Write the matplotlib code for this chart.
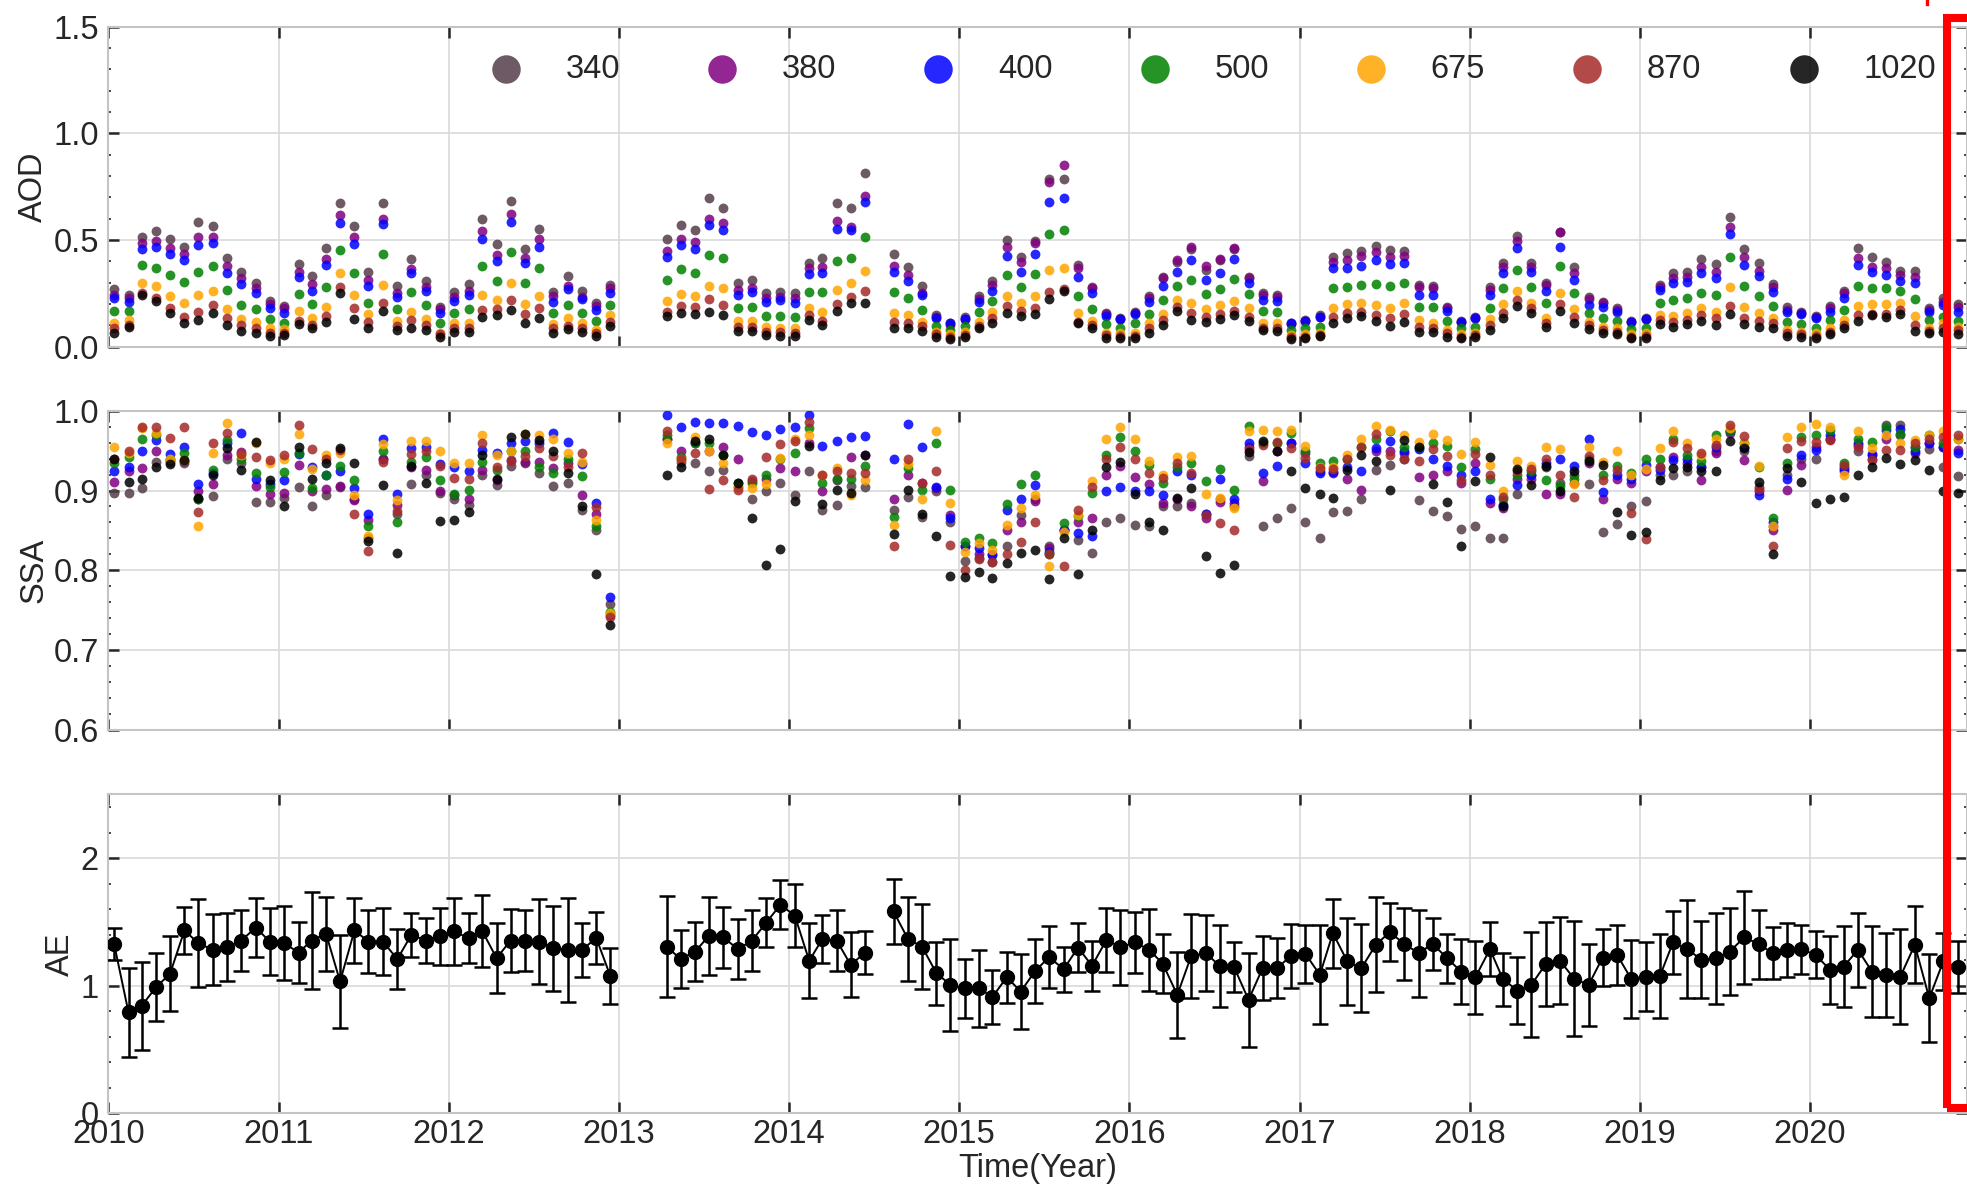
import numpy as np
import pandas as pd
import matplotlib
matplotlib.use('Agg')
import matplotlib.pyplot as plt
import matplotlib.dates as mdates
from matplotlib.ticker import MultipleLocator, FormatStrFormatter
from matplotlib.patches import Rectangle
from matplotlib.lines import Line2D

plt.rcParams['font.family'] = 'Liberation Sans'

nan = np.nan

# monthly series, Jan 2010 .. Nov 2020 (131 months)
first_month = '2010-01-01'
n_months = 131

wavelengths = ['340', '380', '400', '500', '675', '870', '1020']
colors = ['#553d49', 'purple', 'blue', 'green', 'orange', 'brown', 'black']

# AOD per wavelength (one row per year)
aod_340 = [0.272, 0.244, 0.513, 0.542, 0.503, 0.466, 0.583, 0.566, 0.414, 0.352, 0.300, 0.214,
           0.190, 0.386, 0.330, 0.461, 0.675, 0.567, 0.350, 0.675, 0.286, 0.409, 0.306, 0.188,
           0.256, 0.292, 0.600, 0.480, 0.684, 0.458, 0.550, 0.258, 0.330, 0.263, 0.203, 0.288,
           nan, nan, nan, 0.506, 0.570, 0.547, 0.698, 0.652, 0.300, 0.313, 0.250, 0.256,
           0.250, 0.390, 0.417, 0.672, 0.648, 0.814, nan, 0.434, 0.375, 0.284, 0.148, 0.109,
           0.138, 0.238, 0.309, 0.500, 0.419, 0.497, 0.784, 0.784, 0.383, 0.281, 0.159, 0.136,
           0.161, 0.239, 0.328, 0.398, 0.456, 0.359, 0.406, 0.456, 0.328, 0.253, 0.242, 0.113,
           0.125, 0.148, 0.422, 0.438, 0.450, 0.472, 0.453, 0.450, 0.289, 0.286, 0.188, 0.120,
           0.138, 0.278, 0.394, 0.519, 0.390, 0.297, 0.539, 0.372, 0.234, 0.211, 0.180, 0.122,
           0.133, 0.289, 0.344, 0.352, 0.409, 0.388, 0.606, 0.456, 0.394, 0.294, 0.184, 0.164,
           0.144, 0.190, 0.263, 0.461, 0.419, 0.395, 0.356, 0.356, 0.180, 0.227, 0.200]
aod_380 = [0.242, 0.230, 0.484, 0.497, 0.463, 0.434, 0.513, 0.514, 0.380, 0.320, 0.273, 0.200,
           0.180, 0.352, 0.292, 0.409, 0.617, 0.516, 0.313, 0.600, 0.250, 0.363, 0.278, 0.175,
           0.234, 0.263, 0.544, 0.430, 0.620, 0.414, 0.503, 0.238, 0.284, 0.234, 0.190, 0.273,
           nan, nan, nan, 0.450, 0.506, 0.489, 0.600, 0.578, 0.266, 0.277, 0.227, 0.234,
           0.227, 0.370, 0.372, 0.589, 0.563, 0.706, nan, 0.378, 0.336, 0.253, 0.140, 0.100,
           0.130, 0.223, 0.289, 0.469, 0.398, 0.484, 0.773, 0.850, 0.367, 0.273, 0.152, 0.130,
           0.156, 0.227, 0.320, 0.406, 0.466, 0.380, 0.411, 0.461, 0.320, 0.242, 0.234, 0.106,
           0.122, 0.138, 0.398, 0.406, 0.425, 0.445, 0.422, 0.425, 0.278, 0.273, 0.180, 0.117,
           0.133, 0.266, 0.375, 0.497, 0.375, 0.289, 0.536, 0.347, 0.222, 0.203, 0.172, 0.117,
           0.128, 0.278, 0.320, 0.325, 0.375, 0.348, 0.563, 0.419, 0.356, 0.278, 0.172, 0.156,
           0.138, 0.180, 0.250, 0.414, 0.375, 0.367, 0.336, 0.325, 0.172, 0.211, 0.188]
aod_400 = [0.227, 0.211, 0.456, 0.466, 0.434, 0.405, 0.477, 0.484, 0.347, 0.294, 0.250, 0.180,
           0.156, 0.328, 0.263, 0.381, 0.578, 0.483, 0.284, 0.575, 0.234, 0.344, 0.263, 0.156,
           0.214, 0.242, 0.505, 0.403, 0.586, 0.394, 0.469, 0.211, 0.269, 0.222, 0.172, 0.253,
           nan, nan, nan, 0.419, 0.477, 0.459, 0.570, 0.547, 0.242, 0.258, 0.211, 0.219,
           0.206, 0.340, 0.347, 0.550, 0.547, 0.680, nan, 0.352, 0.309, 0.242, 0.133, 0.109,
           0.130, 0.211, 0.263, 0.425, 0.352, 0.434, 0.677, 0.698, 0.328, 0.250, 0.145, 0.130,
           0.153, 0.211, 0.284, 0.352, 0.406, 0.313, 0.344, 0.411, 0.297, 0.219, 0.216, 0.109,
           0.122, 0.140, 0.367, 0.370, 0.380, 0.406, 0.386, 0.390, 0.242, 0.242, 0.169, 0.117,
           0.133, 0.242, 0.344, 0.461, 0.352, 0.263, 0.466, 0.313, 0.195, 0.188, 0.164, 0.117,
           0.128, 0.266, 0.297, 0.305, 0.344, 0.320, 0.528, 0.383, 0.331, 0.255, 0.161, 0.153,
           0.133, 0.164, 0.230, 0.383, 0.352, 0.336, 0.309, 0.300, 0.161, 0.195, 0.164]
aod_500 = [0.167, 0.169, 0.381, 0.370, 0.338, 0.305, 0.348, 0.380, 0.264, 0.195, 0.175, 0.131,
           0.113, 0.247, 0.198, 0.281, 0.453, 0.347, 0.206, 0.434, 0.175, 0.255, 0.195, 0.113,
           0.156, 0.175, 0.378, 0.309, 0.442, 0.300, 0.367, 0.159, 0.194, 0.156, 0.122, 0.195,
           nan, nan, nan, 0.313, 0.363, 0.347, 0.430, 0.417, 0.180, 0.188, 0.145, 0.145,
           0.140, 0.255, 0.255, 0.403, 0.417, 0.513, nan, 0.255, 0.230, 0.172, 0.098, 0.078,
           0.097, 0.164, 0.214, 0.334, 0.278, 0.340, 0.528, 0.547, 0.239, 0.177, 0.106, 0.089,
           0.109, 0.153, 0.219, 0.286, 0.313, 0.247, 0.269, 0.316, 0.247, 0.167, 0.161, 0.078,
           0.086, 0.094, 0.273, 0.281, 0.289, 0.294, 0.284, 0.300, 0.188, 0.184, 0.120, 0.086,
           0.094, 0.180, 0.273, 0.359, 0.278, 0.203, 0.380, 0.250, 0.156, 0.133, 0.122, 0.081,
           0.089, 0.203, 0.219, 0.230, 0.253, 0.242, 0.419, 0.286, 0.239, 0.190, 0.117, 0.106,
           0.089, 0.125, 0.172, 0.284, 0.273, 0.273, 0.263, 0.222, 0.125, 0.140, 0.122]
aod_675 = [0.113, 0.125, 0.300, 0.284, 0.238, 0.205, 0.244, 0.263, 0.178, 0.128, 0.116, 0.086,
           0.081, 0.167, 0.133, 0.184, 0.344, 0.244, 0.153, 0.288, 0.122, 0.164, 0.128, 0.066,
           0.109, 0.113, 0.242, 0.219, 0.297, 0.200, 0.239, 0.106, 0.133, 0.109, 0.078, 0.148,
           nan, nan, nan, 0.214, 0.247, 0.238, 0.286, 0.273, 0.120, 0.120, 0.091, 0.088,
           0.086, 0.180, 0.164, 0.266, 0.300, 0.355, nan, 0.156, 0.148, 0.117, 0.067, 0.058,
           0.067, 0.117, 0.161, 0.239, 0.206, 0.239, 0.359, 0.367, 0.156, 0.122, 0.066, 0.063,
           0.066, 0.113, 0.152, 0.219, 0.206, 0.175, 0.195, 0.216, 0.180, 0.113, 0.113, 0.055,
           0.058, 0.066, 0.180, 0.200, 0.203, 0.195, 0.180, 0.203, 0.125, 0.113, 0.078, 0.058,
           0.063, 0.128, 0.200, 0.263, 0.206, 0.133, 0.250, 0.175, 0.117, 0.094, 0.086, 0.058,
           0.063, 0.148, 0.144, 0.159, 0.180, 0.164, 0.278, 0.188, 0.159, 0.136, 0.078, 0.070,
           0.066, 0.086, 0.125, 0.190, 0.200, 0.200, 0.206, 0.144, 0.086, 0.109, 0.094]
aod_870 = [0.086, 0.100, 0.253, 0.230, 0.180, 0.138, 0.164, 0.195, 0.133, 0.100, 0.086, 0.063,
           0.063, 0.122, 0.100, 0.144, 0.281, 0.180, 0.117, 0.203, 0.097, 0.125, 0.100, 0.059,
           0.086, 0.086, 0.172, 0.175, 0.219, 0.153, 0.180, 0.086, 0.098, 0.086, 0.063, 0.117,
           nan, nan, nan, 0.164, 0.192, 0.184, 0.222, 0.195, 0.094, 0.091, 0.070, 0.067,
           0.066, 0.148, 0.122, 0.200, 0.234, 0.259, nan, 0.114, 0.109, 0.097, 0.058, 0.047,
           0.055, 0.098, 0.133, 0.190, 0.169, 0.180, 0.258, 0.269, 0.117, 0.100, 0.055, 0.050,
           0.050, 0.086, 0.125, 0.188, 0.156, 0.140, 0.153, 0.167, 0.140, 0.089, 0.089, 0.044,
           0.047, 0.055, 0.140, 0.156, 0.161, 0.148, 0.133, 0.153, 0.094, 0.086, 0.063, 0.047,
           0.055, 0.100, 0.156, 0.219, 0.180, 0.109, 0.200, 0.140, 0.100, 0.078, 0.070, 0.047,
           0.050, 0.125, 0.117, 0.125, 0.148, 0.133, 0.190, 0.133, 0.122, 0.109, 0.063, 0.058,
           0.050, 0.067, 0.100, 0.148, 0.153, 0.153, 0.172, 0.100, 0.073, 0.086, 0.078]
aod_1020 = [0.066, 0.091, 0.244, 0.216, 0.156, 0.113, 0.125, 0.159, 0.100, 0.075, 0.063, 0.050,
            0.053, 0.105, 0.086, 0.116, 0.250, 0.128, 0.089, 0.166, 0.078, 0.086, 0.078, 0.047,
            0.070, 0.070, 0.138, 0.148, 0.172, 0.113, 0.136, 0.066, 0.081, 0.070, 0.050, 0.097,
            nan, nan, nan, 0.145, 0.159, 0.152, 0.164, 0.147, 0.075, 0.073, 0.055, 0.050,
            0.050, 0.125, 0.100, 0.169, 0.203, 0.206, nan, 0.086, 0.086, 0.075, 0.044, 0.034,
            0.047, 0.086, 0.113, 0.156, 0.144, 0.152, 0.222, 0.263, 0.109, 0.086, 0.039, 0.039,
            0.042, 0.066, 0.100, 0.169, 0.125, 0.117, 0.130, 0.147, 0.122, 0.078, 0.073, 0.034,
            0.039, 0.050, 0.109, 0.133, 0.144, 0.122, 0.098, 0.114, 0.070, 0.070, 0.047, 0.039,
            0.044, 0.078, 0.133, 0.191, 0.156, 0.091, 0.169, 0.113, 0.083, 0.063, 0.059, 0.039,
            0.042, 0.106, 0.091, 0.106, 0.122, 0.100, 0.153, 0.106, 0.091, 0.086, 0.050, 0.047,
            0.042, 0.059, 0.086, 0.120, 0.148, 0.140, 0.152, 0.073, 0.066, 0.070, 0.059]

# SSA per wavelength
ssa_340 = [0.897, 0.897, 0.903, 0.936, 0.936, 0.935, 0.890, 0.893, 0.939, 0.935, 0.886, 0.886,
           0.891, 0.905, 0.881, 0.894, 0.905, 0.890, 0.840, 0.940, 0.870, 0.908, 0.920, 0.897,
           0.890, 0.882, 0.919, 0.907, 0.931, 0.934, 0.922, 0.906, 0.910, 0.876, 0.851, 0.758,
           nan, nan, nan, 0.965, 0.936, 0.935, 0.924, 0.926, 0.905, 0.889, 0.899, 0.909,
           0.894, 0.924, 0.876, 0.882, 0.906, 0.904, nan, 0.875, 0.892, 0.867, 0.900, 0.860,
           0.812, 0.815, 0.811, 0.830, 0.869, 0.890, 0.830, 0.850, 0.838, 0.822, 0.861, 0.866,
           0.857, 0.856, 0.880, 0.880, 0.885, 0.870, 0.890, 0.880, 0.943, 0.855, 0.865, 0.878,
           0.860, 0.840, 0.873, 0.874, 0.889, 0.926, 0.932, 0.940, 0.888, 0.874, 0.868, 0.852,
           0.855, 0.841, 0.840, 0.896, 0.920, 0.930, 0.910, 0.920, 0.908, 0.848, 0.858, 0.880,
           0.887, 0.920, 0.919, 0.924, 0.930, 0.950, 0.975, 0.950, 0.905, 0.855, 0.920, 0.940,
           0.939, 0.965, 0.930, 0.949, 0.940, 0.982, 0.982, 0.955, 0.952, 0.930, 0.918]
ssa_380 = [0.911, 0.925, 0.928, 0.949, 0.938, 0.937, 0.900, 0.908, 0.944, 0.948, 0.906, 0.896,
           0.897, 0.932, 0.899, 0.902, 0.906, 0.888, 0.863, 0.940, 0.882, 0.930, 0.926, 0.900,
           0.894, 0.889, 0.926, 0.913, 0.938, 0.936, 0.936, 0.928, 0.934, 0.894, 0.870, 0.744,
           nan, nan, nan, 0.965, 0.949, 0.959, 0.950, 0.954, 0.939, 0.912, 0.915, 0.928,
           0.924, 0.959, 0.900, 0.913, 0.942, 0.944, nan, 0.890, 0.920, 0.909, 0.903, 0.869,
           0.830, 0.820, 0.821, 0.851, 0.861, 0.887, 0.828, 0.850, 0.860, 0.865, 0.919, 0.931,
           0.917, 0.908, 0.885, 0.890, 0.880, 0.865, 0.886, 0.885, 0.955, 0.912, 0.950, 0.960,
           0.947, 0.925, 0.922, 0.915, 0.901, 0.950, 0.950, 0.947, 0.917, 0.920, 0.924, 0.910,
           0.935, 0.885, 0.878, 0.915, 0.915, 0.896, 0.896, 0.910, 0.935, 0.889, 0.914, 0.910,
           0.925, 0.929, 0.942, 0.935, 0.913, 0.947, 0.972, 0.938, 0.900, 0.851, 0.901, 0.932,
           0.955, 0.965, 0.925, 0.957, 0.945, 0.965, 0.970, 0.947, 0.960, 0.955, 0.951]
ssa_400 = [0.925, 0.930, 0.950, 0.963, 0.946, 0.954, 0.908, 0.922, 0.960, 0.972, 0.915, 0.908,
           0.913, 0.946, 0.929, 0.919, 0.925, 0.903, 0.871, 0.965, 0.896, 0.953, 0.955, 0.933,
           0.929, 0.925, 0.951, 0.947, 0.960, 0.962, 0.960, 0.972, 0.961, 0.933, 0.885, 0.767,
           nan, nan, nan, 0.994, 0.980, 0.986, 0.985, 0.985, 0.981, 0.973, 0.970, 0.977,
           0.980, 0.994, 0.956, 0.962, 0.967, 0.968, nan, 0.939, 0.983, 0.954, 0.905, 0.866,
           0.830, 0.828, 0.819, 0.876, 0.890, 0.907, 0.823, 0.851, 0.847, 0.843, 0.899, 0.904,
           0.900, 0.900, 0.894, 0.925, 0.919, 0.870, 0.915, 0.889, 0.960, 0.922, 0.931, 0.960,
           0.934, 0.922, 0.923, 0.930, 0.924, 0.953, 0.962, 0.950, 0.952, 0.939, 0.931, 0.920,
           0.924, 0.889, 0.882, 0.907, 0.920, 0.935, 0.939, 0.931, 0.965, 0.898, 0.919, 0.915,
           0.932, 0.926, 0.938, 0.939, 0.930, 0.955, 0.975, 0.955, 0.895, 0.860, 0.914, 0.944,
           0.951, 0.970, 0.927, 0.960, 0.946, 0.976, 0.977, 0.949, 0.960, 0.955, 0.947]
ssa_500 = [0.935, 0.942, 0.965, 0.970, 0.940, 0.947, 0.890, 0.926, 0.963, 0.940, 0.922, 0.904,
           0.923, 0.947, 0.903, 0.919, 0.931, 0.913, 0.855, 0.949, 0.860, 0.936, 0.942, 0.913,
           0.896, 0.901, 0.936, 0.926, 0.950, 0.950, 0.930, 0.922, 0.940, 0.918, 0.855, 0.748,
           nan, nan, nan, 0.970, 0.942, 0.960, 0.959, 0.945, 0.910, 0.910, 0.920, 0.940,
           0.947, 0.978, 0.909, 0.915, 0.915, 0.931, nan, 0.867, 0.928, 0.901, 0.959, 0.901,
           0.835, 0.841, 0.834, 0.883, 0.908, 0.919, 0.820, 0.859, 0.868, 0.897, 0.944, 0.967,
           0.949, 0.932, 0.910, 0.930, 0.935, 0.912, 0.927, 0.901, 0.981, 0.960, 0.960, 0.972,
           0.950, 0.934, 0.937, 0.940, 0.955, 0.965, 0.974, 0.955, 0.955, 0.960, 0.956, 0.930,
           0.952, 0.914, 0.890, 0.920, 0.925, 0.913, 0.906, 0.915, 0.940, 0.920, 0.931, 0.922,
           0.939, 0.940, 0.965, 0.945, 0.937, 0.970, 0.975, 0.960, 0.930, 0.865, 0.934, 0.967,
           0.970, 0.976, 0.935, 0.965, 0.961, 0.979, 0.971, 0.955, 0.970, 0.960, 0.965]
ssa_675 = [0.955, 0.947, 0.978, 0.972, 0.940, 0.938, 0.855, 0.947, 0.984, 0.944, 0.960, 0.935,
           0.940, 0.971, 0.927, 0.944, 0.947, 0.894, 0.843, 0.958, 0.888, 0.962, 0.962, 0.950,
           0.934, 0.935, 0.969, 0.944, 0.949, 0.971, 0.970, 0.964, 0.947, 0.936, 0.863, 0.746,
           nan, nan, nan, 0.959, 0.940, 0.967, 0.949, 0.934, 0.905, 0.903, 0.908, 0.941,
           0.965, 0.970, 0.920, 0.928, 0.894, 0.913, nan, 0.857, 0.933, 0.889, 0.975, 0.885,
           0.823, 0.834, 0.825, 0.857, 0.878, 0.894, 0.805, 0.848, 0.869, 0.912, 0.965, 0.979,
           0.964, 0.937, 0.919, 0.942, 0.943, 0.896, 0.891, 0.878, 0.974, 0.976, 0.975, 0.976,
           0.956, 0.930, 0.930, 0.944, 0.964, 0.981, 0.976, 0.970, 0.961, 0.971, 0.963, 0.946,
           0.961, 0.932, 0.899, 0.937, 0.931, 0.955, 0.952, 0.908, 0.954, 0.936, 0.949, 0.919,
           0.927, 0.953, 0.974, 0.959, 0.945, 0.964, 0.978, 0.960, 0.931, 0.855, 0.967, 0.979,
           0.983, 0.980, 0.920, 0.974, 0.953, 0.970, 0.960, 0.963, 0.970, 0.974, 0.965]
ssa_870 = [0.940, 0.949, 0.980, 0.979, 0.966, 0.980, 0.873, 0.960, 0.972, 0.946, 0.942, 0.938,
           0.944, 0.982, 0.952, 0.940, 0.951, 0.871, 0.824, 0.936, 0.874, 0.946, 0.950, 0.931,
           0.916, 0.914, 0.960, 0.930, 0.937, 0.943, 0.953, 0.943, 0.930, 0.947, 0.879, 0.741,
           nan, nan, nan, 0.974, 0.939, 0.947, 0.902, 0.913, 0.901, 0.915, 0.942, 0.958,
           0.962, 0.986, 0.919, 0.925, 0.922, 0.922, nan, 0.830, 0.939, 0.910, 0.924, 0.832,
           0.800, 0.814, 0.810, 0.820, 0.835, 0.860, 0.820, 0.805, 0.876, 0.904, 0.939, 0.954,
           0.939, 0.922, 0.916, 0.934, 0.922, 0.869, 0.859, 0.851, 0.952, 0.957, 0.961, 0.953,
           0.941, 0.928, 0.927, 0.940, 0.955, 0.971, 0.944, 0.939, 0.937, 0.952, 0.943, 0.913,
           0.946, 0.920, 0.892, 0.925, 0.927, 0.939, 0.919, 0.892, 0.943, 0.913, 0.926, 0.872,
           0.839, 0.930, 0.961, 0.953, 0.947, 0.957, 0.982, 0.968, 0.902, 0.830, 0.953, 0.962,
           0.961, 0.963, 0.932, 0.955, 0.938, 0.951, 0.951, 0.960, 0.965, 0.967, 0.970]
ssa_1020 = [0.939, 0.911, 0.914, 0.929, 0.933, 0.938, 0.891, 0.920, 0.953, 0.926, 0.961, 0.913,
            0.880, 0.955, 0.914, 0.935, 0.953, 0.935, 0.837, 0.907, 0.822, 0.931, 0.910, 0.862,
            0.863, 0.873, 0.944, 0.914, 0.967, 0.971, 0.963, 0.950, 0.922, 0.881, 0.796, 0.732,
            nan, nan, nan, 0.919, 0.930, 0.962, 0.964, 0.944, 0.910, 0.865, 0.807, 0.827,
            0.887, 0.956, 0.883, 0.901, 0.897, 0.944, nan, 0.846, 0.901, 0.871, 0.843, 0.793,
            0.792, 0.798, 0.791, 0.809, 0.822, 0.825, 0.789, 0.840, 0.795, 0.851, 0.930, 0.936,
            0.896, 0.861, 0.851, 0.891, 0.903, 0.818, 0.797, 0.807, 0.948, 0.962, 0.949, 0.924,
            0.903, 0.896, 0.891, 0.926, 0.944, 0.937, 0.901, 0.963, 0.955, 0.908, 0.886, 0.830,
            0.912, 0.942, 0.880, 0.927, 0.907, 0.931, 0.900, 0.924, 0.937, 0.932, 0.873, 0.844,
            0.848, 0.913, 0.928, 0.929, 0.925, 0.924, 0.962, 0.953, 0.911, 0.820, 0.928, 0.911,
            0.884, 0.890, 0.892, 0.920, 0.929, 0.941, 0.933, 0.938, 0.926, 0.899, 0.897]

# Angstrom exponent, monthly mean and standard deviation
ae_mean = [1.328, 0.790, 0.842, 0.988, 1.093, 1.433, 1.333, 1.281, 1.302, 1.354, 1.456, 1.346,
           1.333, 1.260, 1.354, 1.407, 1.033, 1.433, 1.346, 1.346, 1.208, 1.399, 1.354, 1.386,
           1.425, 1.373, 1.430, 1.216, 1.354, 1.354, 1.346, 1.294, 1.281, 1.281, 1.373, 1.077,
           nan, nan, nan, 1.307, 1.208, 1.268, 1.391, 1.378, 1.286, 1.354, 1.495, 1.634,
           1.550, 1.195, 1.365, 1.354, 1.163, 1.260, nan, 1.582, 1.365, 1.307, 1.098, 1.007,
           0.980, 0.980, 0.910, 1.067, 0.954, 1.116, 1.224, 1.129, 1.299, 1.156, 1.359, 1.302,
           1.339, 1.281, 1.171, 0.928, 1.234, 1.255, 1.156, 1.145, 0.889, 1.137, 1.137, 1.234,
           1.250, 1.085, 1.412, 1.190, 1.137, 1.320, 1.420, 1.328, 1.255, 1.328, 1.216, 1.111,
           1.067, 1.286, 1.051, 0.962, 1.007, 1.171, 1.197, 1.054, 1.007, 1.221, 1.242, 1.054,
           1.072, 1.077, 1.339, 1.286, 1.203, 1.216, 1.268, 1.380, 1.325, 1.255, 1.281, 1.286,
           1.242, 1.124, 1.150, 1.281, 1.111, 1.085, 1.072, 1.320, 0.902, 1.190, 1.145]
ae_std = [0.127, 0.350, 0.347, 0.268, 0.294, 0.183, 0.344, 0.278, 0.264, 0.238, 0.229, 0.264,
          0.290, 0.241, 0.377, 0.289, 0.362, 0.256, 0.245, 0.263, 0.233, 0.174, 0.178, 0.220,
          0.263, 0.195, 0.281, 0.277, 0.246, 0.240, 0.335, 0.334, 0.408, 0.213, 0.206, 0.218,
          nan, nan, nan, 0.394, 0.229, 0.230, 0.305, 0.236, 0.235, 0.240, 0.190, 0.192,
          0.245, 0.294, 0.190, 0.237, 0.255, 0.169, nan, 0.253, 0.328, 0.335, 0.248, 0.360,
          0.232, 0.303, 0.214, 0.200, 0.294, 0.251, 0.241, 0.175, 0.190, 0.194, 0.249, 0.293,
          0.241, 0.321, 0.232, 0.336, 0.331, 0.298, 0.322, 0.196, 0.366, 0.251, 0.236, 0.251,
          0.225, 0.388, 0.271, 0.343, 0.347, 0.373, 0.225, 0.283, 0.340, 0.206, 0.193, 0.255,
          0.285, 0.213, 0.209, 0.262, 0.412, 0.327, 0.340, 0.452, 0.323, 0.222, 0.235, 0.306,
          0.272, 0.327, 0.249, 0.382, 0.303, 0.357, 0.343, 0.366, 0.271, 0.205, 0.213, 0.191,
          0.183, 0.268, 0.319, 0.292, 0.353, 0.327, 0.369, 0.301, 0.343, 0.223, 0.204]

aod = [aod_340, aod_380, aod_400, aod_500, aod_675, aod_870, aod_1020]
ssa = [ssa_340, ssa_380, ssa_400, ssa_500, ssa_675, ssa_870, ssa_1020]

# mid-month dates
months = pd.date_range(first_month, periods=n_months, freq='MS') + pd.Timedelta(days=12)

fig = plt.figure(figsize=(19.67, 11.87), dpi=100)
ax1 = fig.add_axes([0.05516, 0.70792, 0.94484, 0.26959])
ax2 = fig.add_axes([0.05516, 0.38500, 0.94484, 0.26900])
ax3 = fig.add_axes([0.05516, 0.06209, 0.94484, 0.26874])

for k in range(len(wavelengths)):
    ax1.scatter(months, aod[k], s=50, color=colors[k], alpha=0.85, linewidths=0,
                label=wavelengths[k], zorder=3)
    ax2.scatter(months, ssa[k], s=50, color=colors[k], alpha=0.85, linewidths=0, zorder=3)

ax3.errorbar(months, ae_mean, yerr=ae_std, color='black', marker='o', markersize=10,
             linewidth=1.4, elinewidth=1.8, capsize=5.6, capthick=1.8, zorder=3)


def style_axes(ax):
    ax.set_xlim(pd.Timestamp('2010-01-01'), pd.Timestamp('2020-12-03'))
    ax.xaxis.set_major_locator(mdates.YearLocator())
    ax.xaxis.set_major_formatter(mdates.DateFormatter('%Y'))
    ax.grid(True, which='major', color='#d9d9d9', linewidth=1.2)
    ax.set_axisbelow(True)
    for sp in ax.spines.values():
        sp.set_color('#c4c4c4')
        sp.set_linewidth(1.5)
    ax.tick_params(which='major', direction='in', length=8, width=1.8, color='#262626',
                   top=True, right=True, labelsize=23.5, labelcolor='#262626')
    ax.tick_params(axis='y', which='major', pad=7)
    ax.tick_params(axis='x', which='major', pad=4)
    ax.tick_params(axis='y', which='minor', direction='in', length=2.5, width=1.2,
                   color='#262626', right=True)
    ax.tick_params(axis='x', which='minor', bottom=False, top=False)


for ax in (ax1, ax2, ax3):
    style_axes(ax)

ax1.set_ylim(0, 1.5)
ax1.yaxis.set_major_locator(MultipleLocator(0.5))
ax1.yaxis.set_minor_locator(MultipleLocator(0.1))
ax1.yaxis.set_major_formatter(FormatStrFormatter('%.1f'))
ax1.tick_params(labelbottom=False)
ax1.set_ylabel('AOD', fontsize=23.5, color='#262626', labelpad=3)

ax2.set_ylim(0.6, 1.0)
ax2.yaxis.set_major_locator(MultipleLocator(0.1))
ax2.yaxis.set_minor_locator(MultipleLocator(0.02))
ax2.yaxis.set_major_formatter(FormatStrFormatter('%.1f'))
ax2.tick_params(labelbottom=False)
ax2.set_ylabel('SSA', fontsize=23.5, color='#262626', labelpad=3)

ax3.set_ylim(0, 2.5)
ax3.yaxis.set_major_locator(MultipleLocator(1))
ax3.yaxis.set_minor_locator(MultipleLocator(0.2))
ax3.yaxis.set_major_formatter(FormatStrFormatter('%d'))
ax3.set_ylabel('AE', fontsize=23.5, color='#262626', labelpad=3)
ax3.set_xlabel('Time(Year)', fontsize=23.5, color='#262626', labelpad=2)

# legend in one row, no frame
ax1.legend(loc='center right', bbox_to_anchor=(0.9833, 0.8678), ncol=7, frameon=False,
           fontsize=23.5, markerscale=2.9, handlelength=1.0, handletextpad=1.33,
           columnspacing=2.63, borderpad=0, borderaxespad=0, labelcolor='#262626')

# red highlight box at the right edge
fig.add_artist(Rectangle((0.98983, 0.06655), 0.05, 0.91829, transform=fig.transFigure,
                         fill=False, edgecolor='red', linewidth=5.8, zorder=10))
fig.add_artist(Line2D([0.97982, 0.97982], [0.9965, 1.0], transform=fig.transFigure,
                      color='red', linewidth=2.4, zorder=10))

fig.savefig('out.png', dpi=100)
